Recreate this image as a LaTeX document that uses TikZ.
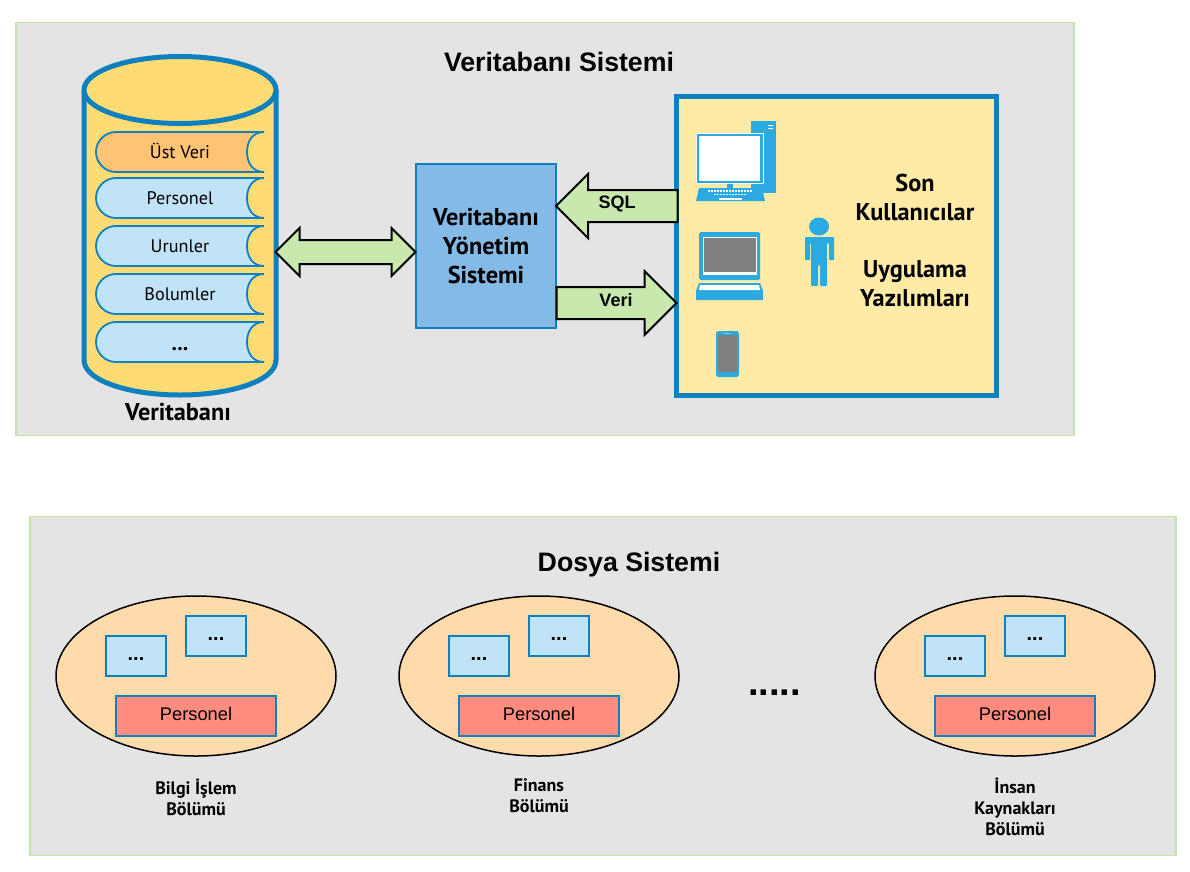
\documentclass[tikz,border=0pt]{standalone}
\usepackage{fontspec}
\setmainfont{PT Sans}
\newfontfamily\arialf{Liberation Sans}
\usetikzlibrary{shapes.arrows,shapes.geometric,calc}
\definecolor{panel}{HTML}{E4E4E4}
\definecolor{panelb}{HTML}{C5E3A8}
\definecolor{dbblue}{HTML}{0E80BE}
\definecolor{dbfill}{HTML}{FFDC73}
\definecolor{stripe}{HTML}{C0E3F7}
\definecolor{stripeo}{HTML}{FFC374}
\definecolor{dbms}{HTML}{84BAE6}
\definecolor{dbmsb}{HTML}{0E80BE}
\definecolor{arrowg}{HTML}{C9E8AD}
\definecolor{apppanel}{HTML}{FFEBA6}
\definecolor{iconb}{HTML}{2BA9E1}
\definecolor{igray}{HTML}{808080}
\definecolor{ell}{HTML}{FFDAAA}
\definecolor{red1}{HTML}{FF8C7E}
\tikzset{
  x=1pt,y=-1pt,
  panelbox/.style={draw=panelb,fill=panel,line width=1.2pt,inner sep=0pt},
  stripebox/.style={draw=dbblue,line width=1.8pt},
  stripelabel/.style={font=\fontsize{18.2}{20}\selectfont,inner sep=0pt,anchor=base},
  biglabel/.style={font=\fontsize{24.3}{29}\selectfont\bfseries,align=center,inner sep=0pt},
  arrowlabel/.style={font=\arialf\fontsize{18}{20}\selectfont\bfseries,inner sep=0pt},
  blockarrow/.style={draw=black,fill=arrowg,line width=2pt,miter limit=10,inner xsep=0pt},
  smallbox/.style={draw=dbblue,fill=stripe,line width=1.6pt,minimum width=60pt,minimum height=40pt,inner sep=0pt},
  smalldots/.style={font=\arialf\fontsize{20}{20}\selectfont\bfseries,inner sep=0pt},
  redbox/.style={draw=dbblue,fill=red1,line width=1.6pt,minimum width=160pt,minimum height=40pt,inner sep=0pt},
  deptlabel/.style={font=\fontsize{18}{21}\selectfont\bfseries,align=center,inner sep=0pt},
  titlelabel/.style={font=\arialf\fontsize{26.7}{30}\selectfont\bfseries,inner sep=0pt},
  ellipsebox/.style={draw=black,fill=ell,line width=1.5pt,ellipse,minimum width=280pt,minimum height=160pt,inner sep=0pt},
}
\newcommand{\dbstripe}[4]{% top y, bottom y, color, text
  \fill[#3] (264,#1) -- (116,#1) .. controls (105,#1) and (96,{#1+9}) .. (96,{(#1+#2)/2}) .. controls (96,{#2-9}) and (105,#2) .. (116,#2) -- (264,#2)
     .. controls (252,#2) and (247,{#2-10}) .. (247,{(#1+#2)/2}) .. controls (247,{#1+10}) and (252,#1) .. (264,#1) -- cycle;
  \draw[stripebox] (264,#1) -- (116,#1) .. controls (105,#1) and (96,{#1+9}) .. (96,{(#1+#2)/2}) .. controls (96,{#2-9}) and (105,#2) .. (116,#2) -- (264,#2)
     .. controls (252,#2) and (247,{#2-10}) .. (247,{(#1+#2)/2}) .. controls (247,{#1+10}) and (252,#1) .. (264,#1);
  \node[stripelabel] at (180,{(#1+#2)/2+6}) {#4};
}
\begin{document}
\begin{tikzpicture}
\useasboundingbox (0,0) rectangle (1190,871);
% panels
\node[panelbox,minimum width=1058pt,minimum height=413pt] (vtpanel) at (545,229) {};
\node[panelbox,minimum width=1146pt,minimum height=339pt] (dspanel) at (603,686) {};
\node[titlelabel] (vttitle) at (559,62) {Veritabanı Sistemi};
\node[titlelabel] (dstitle) at (629,565) {Dosya Sistemi};
% cylinder
\path[fill=dbfill,draw=dbblue,line width=5pt] (84,90) -- (84,360) .. controls (84,381) and (130,395) .. (180,395) .. controls (230,395) and (276,381) .. (276,360) -- (276,90);
\draw[fill=dbfill,draw=dbblue,line width=5pt] (180,90) ellipse[x radius=96,y radius=33.5];
\dbstripe{132}{172}{stripeo}{Üst Veri}
\dbstripe{178}{218}{stripe}{Personel}
\dbstripe{226}{266}{stripe}{Urunler}
\dbstripe{274}{314}{stripe}{Bolumler}
\dbstripe{322}{362}{stripe}{}
\node[font=\fontsize{22}{22}\selectfont\bfseries,inner sep=0pt] (dbdots) at (180,349) {...};
\node[biglabel] (vtlabel) at (178,412) {Veritabanı};
% DBMS
\node[draw=dbmsb,fill=dbms,line width=1.6pt,minimum width=140pt,minimum height=164pt,biglabel] (dbmsn) at (486,246) {Veritabanı\\Yönetim\\Sistemi};
% app panel
\node[draw=dbblue,fill=apppanel,line width=5pt,minimum width=320pt,minimum height=299pt,inner sep=0pt] (app) at (836.5,246) {};
\node[biglabel] (sk) at (915,197.5) {Son\\Kullanıcılar};
\node[biglabel] (uy) at (915,284) {Uygulama\\Yazılımları};
% arrows
\node[blockarrow,double arrow,double arrow head extend=12pt,double arrow head indent=0pt,minimum height=140pt,inner ysep=11pt] (dbarrow) at (345.5,252) {};
\node[blockarrow,single arrow,single arrow head extend=16pt,single arrow head indent=0pt,minimum height=121.5pt,inner ysep=15pt,shape border rotate=180,anchor=tail] (sqlarrow) at (678.5,206) {};
\node[arrowlabel] (sqll) at (617,204) {SQL};
\node[blockarrow,single arrow,single arrow head extend=16pt,single arrow head indent=0pt,minimum height=120pt,inner ysep=15pt,anchor=tail] (veriarrow) at (555.5,303) {};
\node[arrowlabel] (veril) at (616,300.5) {Veri};
% desktop icon
\fill[iconb] (751,121) rectangle (776,193);
\fill[white] (768,125) rectangle (773,126) (768,128) rectangle (773,129);
\fill[iconb,draw=white,line width=.4pt] (696,133) rectangle (763.5,183);
\fill[white] (699,136) rectangle (760,181);
\fill[iconb] (727,184) rectangle (733,188) (751,184) rectangle (763,188);
\fill[iconb] (699,188) -- (762,188) -- (765,201) -- (696,201) -- cycle;
\fill[white] (719,198) rectangle (742,200);
\foreach \kx in {708,711,...,750} \fill[white] (\kx,190) rectangle ++(1.8,1.6);
\foreach \kx in {714,717,...,744} \fill[white] (\kx,193.5) rectangle ++(1.8,1.6);
% laptop icon
\fill[iconb,rounded corners=1.5pt] (699,232) rectangle (760,280);
\fill[white] (703,236.5) rectangle (756.5,274.5);
\fill[igray] (704,238) rectangle (756,272);
\fill[iconb] (699,283) -- (760,283) -- (763,291) -- (763,300) -- (696,300) -- (696,291) -- cycle;
\fill[white] (700,285) -- (759,285) -- (760,290) -- (699,290) -- cycle;
% phone icon
\fill[iconb,rounded corners=2.5pt] (716,331) rectangle (739,377);
\fill[igray] (718,335) rectangle (737,372);
\fill[white,opacity=.35] (724,332.5) rectangle (731,333.5);
% person
\fill[iconb] (819,226.5) ellipse[x radius=10,y radius=9];
\fill[iconb,rounded corners=.8pt] (805,237) -- (834,237) -- (834,260) -- (829,260) -- (829,243) -- (827,243) -- (827,286) -- (820,286) -- (820,265) -- (818,265) -- (818,286) -- (811,286) -- (811,243) -- (810,243) -- (810,260) -- (805,260) -- cycle;
% file-system
\foreach \i/\cx in {a/196,b/539,c/1015}{
  \node[ellipsebox] (ell\i) at (\cx,676) {};
  \node[smallbox] (sa\i) at (\cx-60,656) {};
  \node[smalldots] (sal\i) at (\cx-60,659) {...};
  \node[smallbox] (sb\i) at (\cx+20,636) {};
  \node[smalldots] (sbl\i) at (\cx+20,639) {...};
  \node[redbox] (r\i) at (\cx,716) {};
  \node[font=\arialf\fontsize{18.3}{20}\selectfont,inner sep=0pt] (rl\i) at (\cx,713.5) {Personel};
}
\node[font=\arialf\fontsize{38}{38}\selectfont\bfseries,inner sep=0pt] (dots) at (774.5,693) {.....};
\node[deptlabel] (d1) at (196,797) {Bilgi İşlem\\Bölümü};
\node[deptlabel] (d2) at (539,796) {Finans\\Bölümü};
\node[deptlabel] (d3) at (1015,807) {İnsan\\Kaynakları\\Bölümü};
\end{tikzpicture}
\end{document}
